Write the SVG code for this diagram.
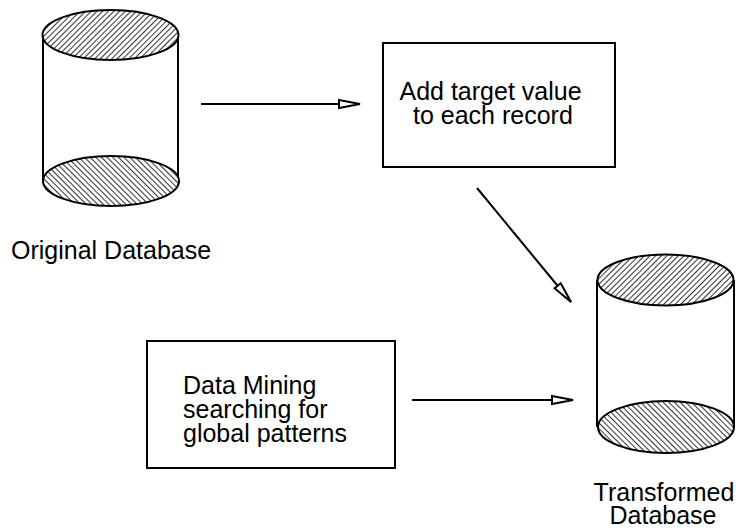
<svg xmlns="http://www.w3.org/2000/svg" width="738" height="529" viewBox="0 0 738 529">
  <style>
    .box { fill: #fff; stroke: #000; stroke-width: 2; }
    .cap1 { fill: url(#hatchA); stroke: #000; stroke-width: 2; }
    .cap2 { fill: url(#hatchB); stroke: #000; stroke-width: 2; }
    .side { stroke: #000; stroke-width: 2; }
    .label { font-family: "Liberation Sans", Arial, Helvetica, sans-serif; font-size: 25px; fill: #000; }
    .conn { stroke: #000; stroke-width: 2; fill: none; marker-end: url(#openArrow); }
  </style>
  <defs>
    <pattern id="hatchA" patternUnits="userSpaceOnUse" width="4" height="4" patternTransform="rotate(45)">
      <rect width="4" height="4" fill="#fff"/>
      <line x1="0" y1="0" x2="0" y2="4" stroke="#333" stroke-width="2"/>
    </pattern>
    <pattern id="hatchB" patternUnits="userSpaceOnUse" width="4" height="4" patternTransform="rotate(-45)">
      <rect width="4" height="4" fill="#fff"/>
      <line x1="0" y1="0" x2="0" y2="4" stroke="#333" stroke-width="2"/>
    </pattern>
    <marker id="openArrow" markerUnits="userSpaceOnUse" markerWidth="26" markerHeight="12" refX="21" refY="4" orient="auto" viewBox="-2 -2 26 12">
      <path d="M0,0 L21,4 L0,8 Z" fill="#fff" stroke="#000" stroke-width="2" stroke-linejoin="miter"/>
    </marker>
  </defs>

  <g id="connectors">
    <line class="conn" x1="201" y1="104" x2="360" y2="104"/>
    <line class="conn" x1="477" y1="188" x2="571" y2="302"/>
    <line class="conn" x1="412" y1="400" x2="573" y2="400"/>
  </g>

  <g id="original-database">
    <line class="side" x1="43" y1="35" x2="43" y2="181"/>
    <line class="side" x1="178" y1="35" x2="178" y2="181"/>
    <ellipse class="cap1" cx="110.5" cy="35" rx="68" ry="25"/>
    <ellipse class="cap2" cx="111" cy="181" rx="68" ry="25"/>
    <text class="label" x="11" y="259">Original Database</text>
  </g>

  <g id="add-target">
    <rect class="box" x="383" y="43" width="232" height="124"/>
    <text class="label" x="399.5" y="100">Add target value</text>
    <text class="label" x="413" y="124">to each record</text>
  </g>

  <g id="transformed-database">
    <line class="side" x1="597" y1="280" x2="597" y2="427"/>
    <line class="side" x1="734" y1="280" x2="734" y2="427"/>
    <ellipse class="cap1" cx="665.5" cy="280" rx="68" ry="25.5"/>
    <ellipse class="cap2" cx="666" cy="427" rx="68" ry="26"/>
    <text class="label" x="664" y="501" text-anchor="middle">Transformed</text>
    <text class="label" x="663" y="524" text-anchor="middle">Database</text>
  </g>

  <g id="data-mining">
    <rect class="box" x="147" y="341" width="248" height="127"/>
    <text class="label" x="183" y="394">Data Mining</text>
    <text class="label" x="183" y="418">searching for</text>
    <text class="label" x="183" y="442">global patterns</text>
  </g>
</svg>
